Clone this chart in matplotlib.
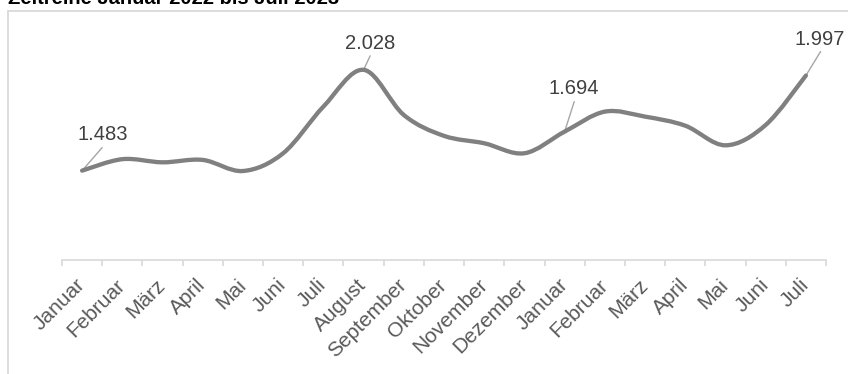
import matplotlib
matplotlib.use('Agg')
import matplotlib.pyplot as plt
from matplotlib.path import Path
from matplotlib.patches import PathPatch, Rectangle
import numpy as np

plt.rcParams['font.family'] = ['Liberation Sans', 'DejaVu Sans']

title = 'Zeitreihe Januar 2022 bis Juli 2023'
months = ['Januar', 'Februar', 'März', 'April', 'Mai', 'Juni', 'Juli', 'August',
          'September', 'Oktober', 'November', 'Dezember', 'Januar', 'Februar',
          'März', 'April', 'Mai', 'Juni', 'Juli']
values = [1483, 1545, 1528, 1541, 1481, 1577, 1829, 2028, 1784, 1671, 1631,
          1577, 1694, 1802, 1775, 1726, 1620, 1730, 1997]
labeled_idx = [0, 7, 12, 18]
y_min, y_max = 1000, 2200

# label placement (pixel offsets from point): leader end, text baseline-center
leader_off = {0: (20, 23), 7: (6.6, 14), 12: (9.6, 30), 18: (14.7, 24)}
text_off = {0: (21, 31), 7: (6.6, 21), 12: (9, 38), 18: (14, 31)}

W, H = 848, 374
fig = plt.figure(figsize=(W / 100, H / 100), dpi=100)
ax = fig.add_axes([62 / W, 1 - 260 / H, 764 / W, 222 / H])

n = len(values)
x = np.arange(n)
pts = np.column_stack([x, np.array(values, dtype=float)])
verts = [pts[0]]
codes = [Path.MOVETO]
for i in range(n - 1):
    p0 = pts[i - 1] if i > 0 else pts[i]
    p1 = pts[i]
    p2 = pts[i + 1]
    p3 = pts[i + 2] if i + 2 < n else pts[i + 1]
    c1 = p1 + (p2 - p0) / 6.0
    c2 = p2 - (p3 - p1) / 6.0
    verts += [c1, c2, p2]
    codes += [Path.CURVE4] * 3
ax.add_patch(PathPatch(Path(verts, codes), fill=False, edgecolor='#808080',
                       lw=3.1, capstyle='round', joinstyle='round', zorder=3))

ax.set_xlim(-0.5, n - 0.5)
ax.set_ylim(y_min, y_max)

for i in labeled_idx:
    lx, ly = leader_off[i]
    ax.annotate('', xy=(x[i], values[i]), xytext=(lx, ly), textcoords='offset pixels',
                arrowprops=dict(arrowstyle='-', color='#a6a6a6', lw=1.0,
                                shrinkA=0, shrinkB=0), zorder=2)
    tx, ty = text_off[i]
    lab = f"{values[i]:,}".replace(',', '.')
    ax.annotate(lab, xy=(x[i], values[i]), xytext=(tx, ty), textcoords='offset pixels',
                ha='center', va='baseline', fontsize=14.5, color='#404040', zorder=4)

for s in ['top', 'right', 'left']:
    ax.spines[s].set_visible(False)
ax.spines['bottom'].set_color('#d9d9d9')
ax.spines['bottom'].set_linewidth(1.2)
ax.set_yticks([])
ax.set_xticks(x)
ax.set_xticklabels(months, rotation=45, ha='right', va='center',
                   rotation_mode='anchor', fontsize=15, color='#595959')
ax.tick_params(axis='x', which='major', length=0, pad=16)
ax.set_xticks(np.arange(-0.5, n, 1.0), minor=True)
ax.tick_params(axis='x', which='minor', length=4, width=1.2, color='#d9d9d9')
ax.patch.set_alpha(0)

fig.patches.append(Rectangle((8 / W, -0.1), 1.2, (1 - 11 / H) + 0.1,
                             transform=fig.transFigure, fill=False,
                             edgecolor='#d9d9d9', lw=1.3, zorder=0))
fig.text(8 / W, 1 - 3.5 / H, title, ha='left', va='baseline', fontsize=14.5,
         fontweight='bold', color='black')

fig.savefig('out.png', dpi=100)
